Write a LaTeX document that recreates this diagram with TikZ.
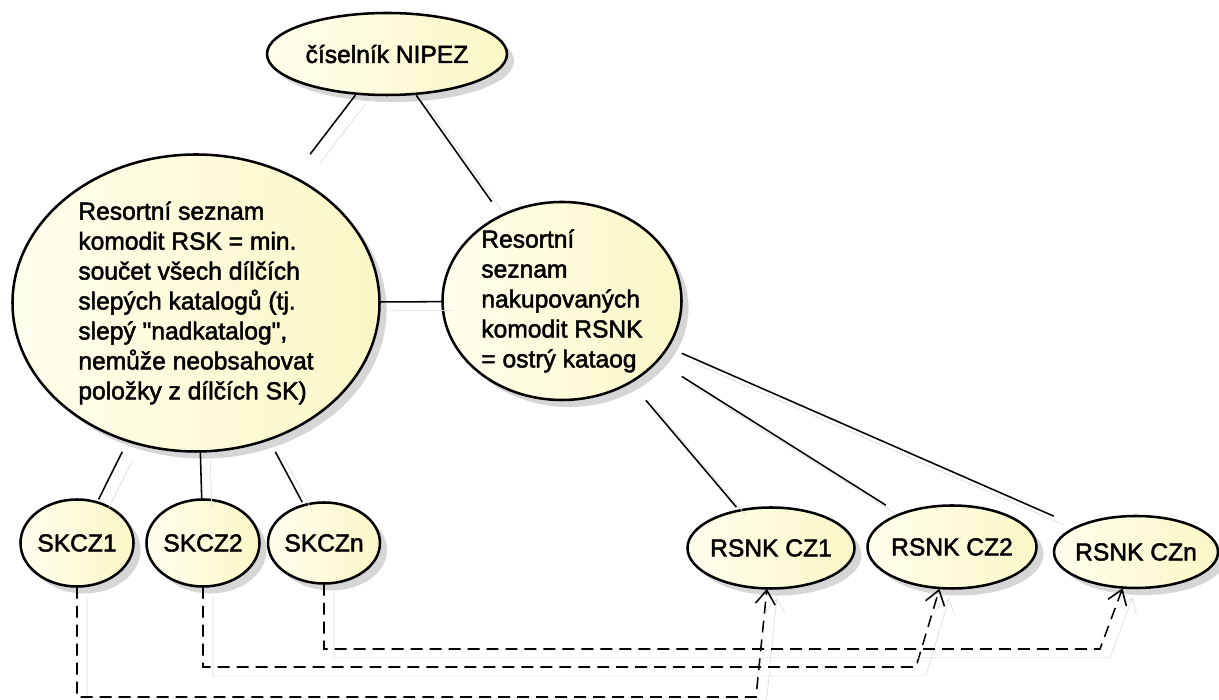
\documentclass[tikz,border=0pt]{standalone}
\usepackage{fontspec}
\setmainfont{Liberation Sans}
\newfontfamily\ucfont{Liberation Sans}[FakeBold=2]
\usetikzlibrary{arrows.meta, shadows}
\definecolor{ucpale}{RGB}{255,255,238}
\definecolor{ucyellow}{RGB}{250,247,198}
\definecolor{shadowgray}{RGB}{196,196,196}

\tikzset{
  ucase/.style={draw=black, line width=1.8pt, left color=ucpale, right color=ucyellow,
    drop shadow={shadow xshift=5pt, shadow yshift=-5pt, fill=shadowgray, opacity=0.7}},
  ucbox/.style={rectangle, inner sep=0pt, align=left},
  link/.style={line width=1.1pt,
    preaction={draw=black!15, solid, transform canvas={shift={(0.25cm,-0.22cm)}}}},
  dep/.style={link, dash pattern=on 8.5pt off 5pt,
    -{Straight Barb[length=10pt, width=14pt, line width=1.1pt]}}
}

\begin{document}
\begin{tikzpicture}[font=\ucfont\fontsize{17.5pt}{21.3pt}\selectfont]
  \useasboundingbox (0,0) rectangle (30.475,17.5);

  \draw[ucase] (9.675,16.15) ellipse (3cm and 1.025cm);
  \node[ucbox, minimum width=6cm, minimum height=2.05cm] (nipez) at (9.675,16.15) {číselník NIPEZ};

  \draw[ucase] (4.9,9.925) ellipse (4.5875cm and 3.7125cm);
  \node[ucbox, minimum width=9.175cm, minimum height=7.425cm] (rsk) at (4.9,9.925)
    {Resortní seznam\\komodit RSK = min.\\součet všech dílčích\\slepých katalogů (tj.\\slepý \textquotedbl nadkatalog\textquotedbl,\\nemůže neobsahovat\\položky z dílčích SK)};

  \draw[ucase] (14.05,9.975) ellipse (2.9875cm and 2.475cm);
  \node[ucbox, minimum width=5.975cm, minimum height=4.95cm] (rsnk) at (14.05,9.975)
    {Resortní\\seznam\\nakupovaných\\komodit RSNK\\= ostrý kataog};

  \draw[ucase] (1.925,3.925) ellipse (1.4125cm and 1.0875cm);
  \node[ucbox, minimum width=2.825cm, minimum height=2.175cm] (sk1) at (1.925,3.925) {SKCZ1};
  \draw[ucase] (5.075,3.925) ellipse (1.4125cm and 1.0875cm);
  \node[ucbox, minimum width=2.825cm, minimum height=2.175cm] (sk2) at (5.075,3.925) {SKCZ2};
  \draw[ucase] (8.1,3.925) ellipse (1.4cm and 1.0125cm);
  \node[ucbox, minimum width=2.8cm, minimum height=2.025cm] (skn) at (8.1,3.925) {SKCZn};

  \draw[ucase] (19.275,3.8) ellipse (2.0875cm and 1.0125cm);
  \node[ucbox, minimum width=4.175cm, minimum height=2.025cm] (rc1) at (19.275,3.8) {RSNK CZ1};
  \draw[ucase] (23.8,3.825) ellipse (2.1125cm and 1.0375cm);
  \node[ucbox, minimum width=4.225cm, minimum height=2.075cm] (rc2) at (23.8,3.825) {RSNK CZ2};
  \draw[ucase] (28.4,3.7) ellipse (2.05cm and 0.9cm);
  \node[ucbox, minimum width=4.1cm, minimum height=1.8cm] (rcn) at (28.4,3.7) {RSNK CZn};

  \draw[link] (nipez) -- (rsk);
  \draw[link] (nipez) -- (rsnk);
  \draw[link] (rsk) -- (rsnk);
  \draw[link] (rsk) -- (sk1);
  \draw[link] (rsk) -- (sk2);
  \draw[link] (rsk) -- (skn);
  \draw[link] (rsnk) -- (rc1);
  \draw[link] (rsnk) -- (rc2);
  \draw[link] (rsnk) -- (rcn);

  \coordinate (b1) at (18.9,0.075);
  \coordinate (b2) at (22.9,0.825);
  \coordinate (bn) at (27.5,1.275);
  \draw[dep] (sk1) |- (b1) -- (rc1);
  \draw[dep] (sk2) |- (b2) -- (rc2);
  \draw[dep] (skn) |- (bn) -- (rcn);
\end{tikzpicture}
\end{document}
